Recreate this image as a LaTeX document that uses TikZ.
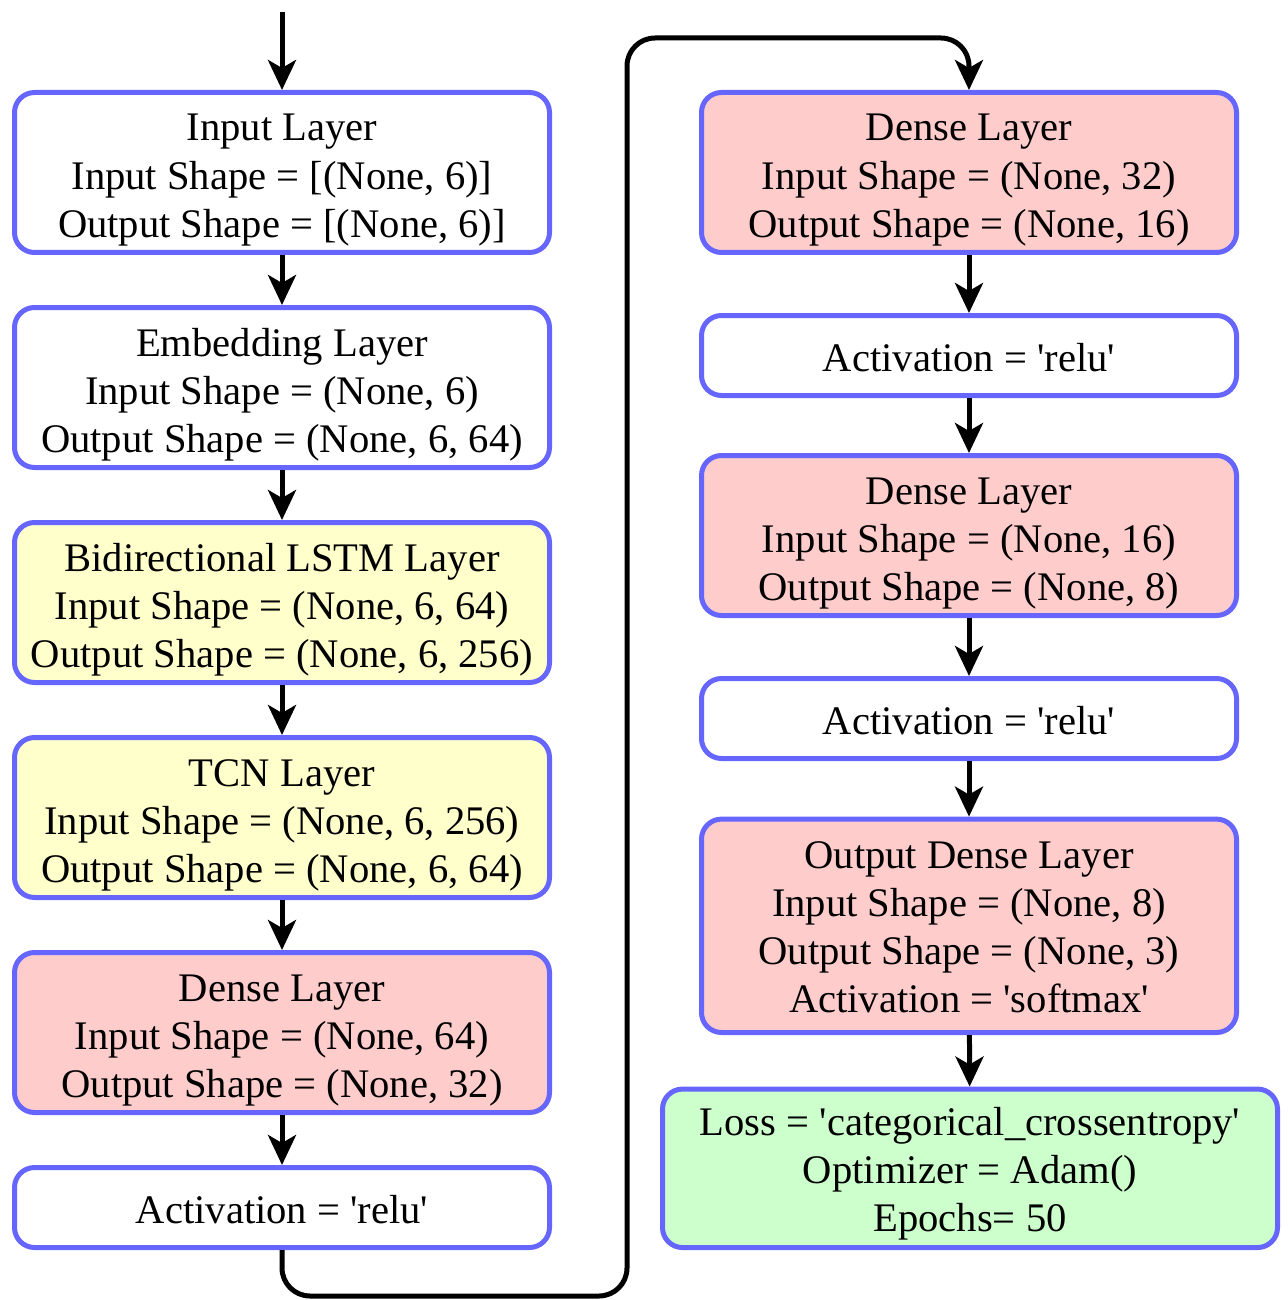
\documentclass[tikz,border=0pt]{standalone}
\usepackage{fontspec}
\setmainfont{Liberation Serif}[Ligatures=TeXOff]
\usepackage{xcolor}
\usepackage{tikz}
\usetikzlibrary{positioning,arrows.meta}
\definecolor{bstroke}{HTML}{6666FF}
\definecolor{densefill}{HTML}{FFCCCC}
\definecolor{seqfill}{HTML}{FFFFCC}
\definecolor{lossfill}{HTML}{CCFFCC}
% lines of a box, first baseline raised by #1 above the box centre
\newcommand{\boxlines}[2]{\raisebox{#1}[0pt][0pt]{\begin{tabular}[t]{@{}c@{}}#2\end{tabular}}}
\tikzset{
  layerbox/.style={draw=bstroke, fill=white, line width=2.5pt, rounded corners=10pt,
                   minimum width=267.5pt, minimum height=80pt, inner sep=2pt,
                   font=\fontsize{20.3}{24.1}\selectfont},
  actbox/.style={layerbox, minimum height=40pt},
  densebox/.style={layerbox, fill=densefill},
  seqbox/.style={layerbox, fill=seqfill},
  outbox/.style={densebox, minimum height=106.7pt},
  lossbox/.style={layerbox, fill=lossfill, minimum width=307.5pt, minimum height=79.25pt},
  flowarrow/.style={-{Stealth[length=15pt,width=14pt,inset=4pt]}, line width=2.5pt}
}

\begin{document}
\begin{tikzpicture}[x=0.5pt, y=-0.5pt]
  \useasboundingbox (0,0) rectangle (1288,1300);

  % --- left column ---
  \node[layerbox] (in) at (282,172.5) {\boxlines{15.75pt}{Input Layer\\Input Shape = [(None, 6)]\\Output Shape = [(None, 6)]}};
  \node[layerbox, below=25pt of in] (emb) {\boxlines{15.75pt}{Embedding Layer\\Input Shape = (None, 6)\\Output Shape = (None, 6, 64)}};
  \node[seqbox, below=25pt of emb] (lstm) {\boxlines{15.75pt}{Bidirectional LSTM Layer\\Input Shape = (None, 6, 64)\\Output Shape = (None, 6, 256)}};
  \node[seqbox, below=25pt of lstm] (tcn) {\boxlines{15.75pt}{TCN Layer\\Input Shape = (None, 6, 256)\\Output Shape = (None, 6, 64)}};
  \node[densebox, below=25pt of tcn] (d1) {\boxlines{15.75pt}{Dense Layer\\Input Shape = (None, 64)\\Output Shape = (None, 32)}};
  \node[actbox, below=25pt of d1] (act1) {\boxlines{-8.1pt}{Activation = 'relu'}};

  % --- right column ---
  \node[densebox] (d2) at (969,172.5) {\boxlines{15.75pt}{Dense Layer\\Input Shape = (None, 32)\\Output Shape = (None, 16)}};
  \node[actbox] (act2) at (969,355.5) {\boxlines{-8.1pt}{Activation = 'relu'}};
  \node[densebox] (d3) at (969,535.5) {\boxlines{15.75pt}{Dense Layer\\Input Shape = (None, 16)\\Output Shape = (None, 8)}};
  \node[actbox] (act3) at (969,718.5) {\boxlines{-8.1pt}{Activation = 'relu'}};
  \node[outbox] (out) at (969,925.8) {\boxlines{28.75pt}{Output Dense Layer\\Input Shape = (None, 8)\\Output Shape = (None, 3)\\Activation = 'softmax'}};
  \node[lossbox] (loss) at (970,1168.3) {\boxlines{16.65pt}{Loss = 'categorical\_crossentropy'\\Optimizer = Adam()\\Epochs= 50}};

  % --- arrows ---
  \coordinate (start) at (282,12);
  \draw[flowarrow] (start) -- (in.north);
  \draw[flowarrow] (in) -- (emb);
  \draw[flowarrow] (emb) -- (lstm);
  \draw[flowarrow] (lstm) -- (tcn);
  \draw[flowarrow] (tcn) -- (d1);
  \draw[flowarrow] (d1) -- (act1);

  % loop over to the right column
  \coordinate (loopbot) at (627,1296);
  \coordinate (looptop) at (627,38);
  \draw[flowarrow, rounded corners=14pt] (act1.south) |- (loopbot) -- (looptop) -| (d2.north);

  \draw[flowarrow] (d2) -- (act2);
  \draw[flowarrow] (act2) -- (d3);
  \draw[flowarrow] (d3) -- (act3);
  \draw[flowarrow] (act3) -- (out);
  \draw[flowarrow] (out) -- (loss);

\end{tikzpicture}
\end{document}
